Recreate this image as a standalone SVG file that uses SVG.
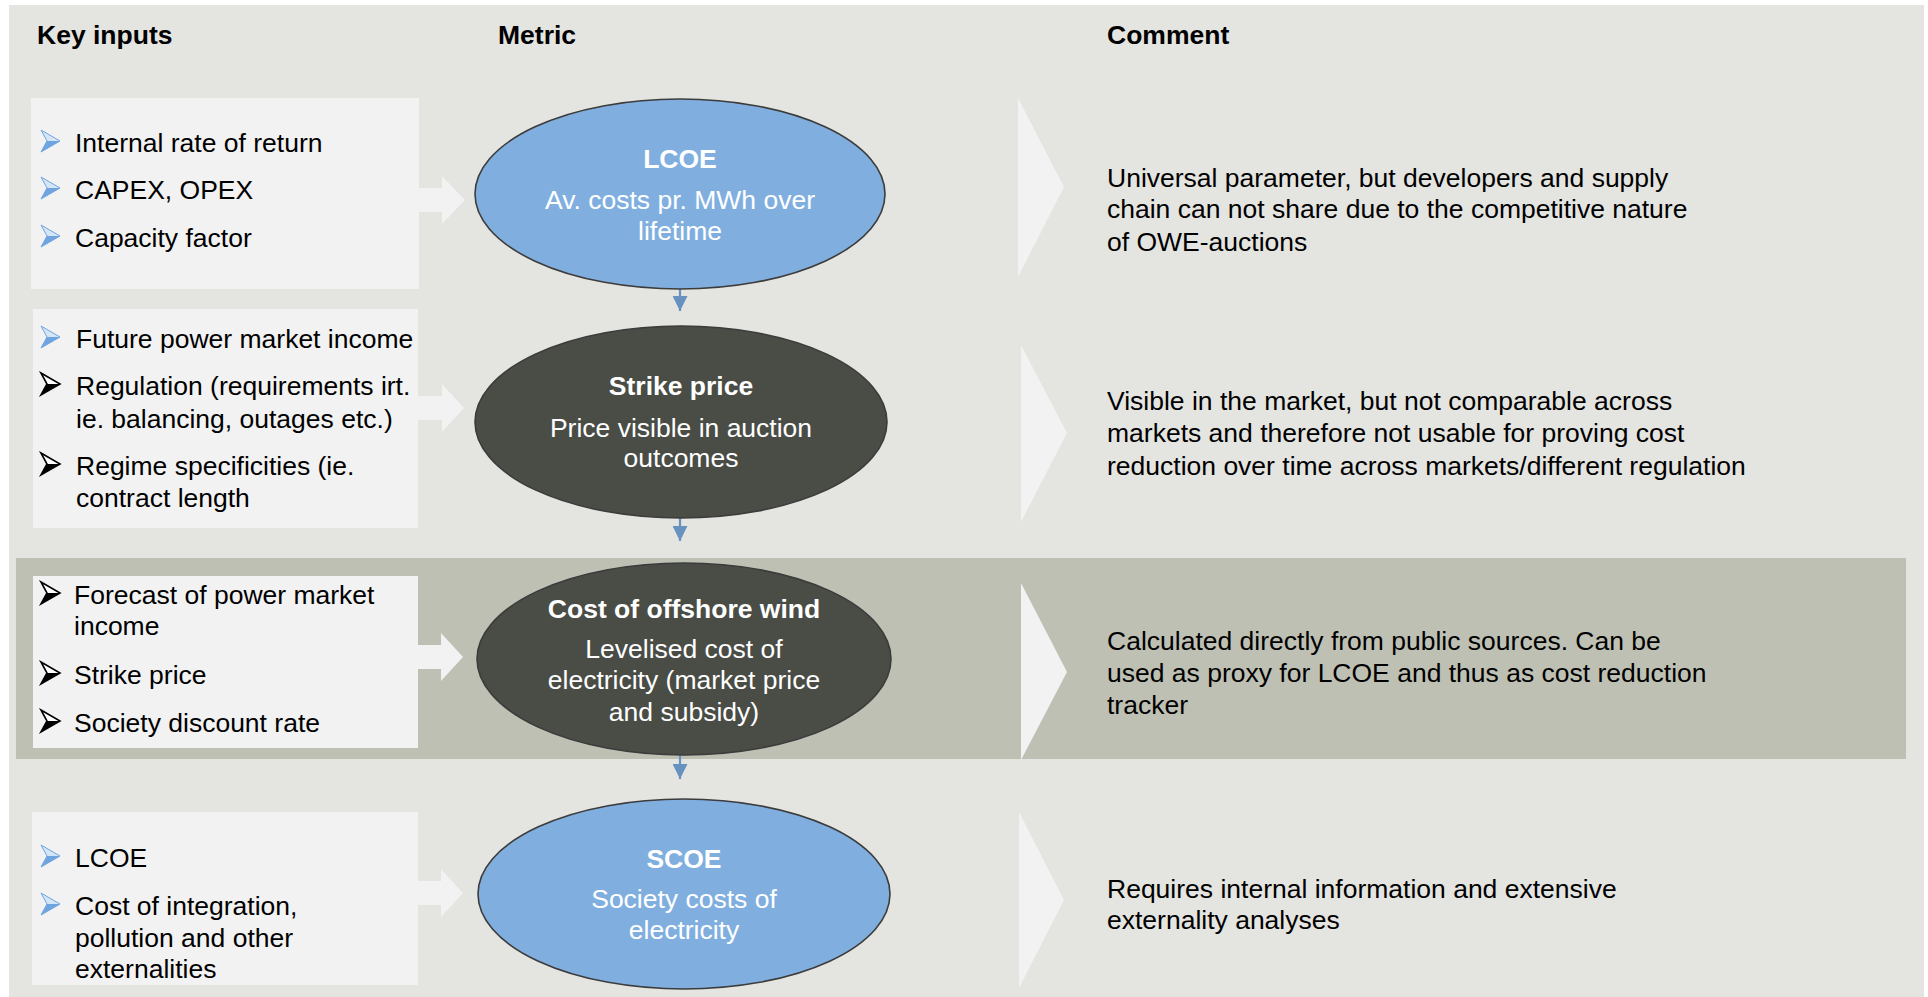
<svg xmlns="http://www.w3.org/2000/svg" width="1928" height="997" viewBox="0 0 1928 997">
<style>
text{font-family:"Liberation Sans",Arial,sans-serif;font-size:26.5px;fill:#000}
.h{font-weight:bold}
.et{fill:#fff;text-anchor:middle}
.eb{fill:#fff;text-anchor:middle;font-weight:bold}
.box{fill:#f2f2f2}
.chev{fill:#f2f2f2}
.blue{fill:#80afdf;stroke:#3c3c3c;stroke-width:1.6}
.dark{fill:#4a4c46;stroke:#3c3c3c;stroke-width:1.6}
.conn{stroke:#6792c0;stroke-width:2.2;fill:none}
</style>
<defs>
<marker id="ah" markerWidth="16" markerHeight="16" refX="7.5" refY="15" orient="0" markerUnits="userSpaceOnUse">
<polygon points="0,0 15,0 7.5,15" fill="#6792c0"/>
</marker>
<g id="bb"><polygon points="0,-22 19,-11 0,0 6,-11" fill="#d6e5f6" stroke="#6ea5e0" stroke-width="1"/><polygon points="6,-11 19,-11 0,0" fill="#6ea5e0"/></g>
<g id="bk"><polygon points="0,-22 19,-11 0,0 6,-11" fill="#fff" stroke="#000" stroke-width="1.6"/><polygon points="6,-11 19,-11 0,0" fill="#000"/></g>
</defs>
<rect x="0" y="0" width="1928" height="997" fill="#fff"/>
<rect x="9" y="5" width="1915" height="992" fill="#e4e4e0"/>
<rect x="16" y="558" width="1890" height="201" fill="#bfc0b4"/>

<g id="headers">
<text class="h" x="37" y="44">Key inputs</text>
<text class="h" x="498" y="44">Metric</text>
<text class="h" x="1107" y="44">Comment</text>
</g>

<g id="inputs-lcoe">
<rect class="box" x="31" y="98" width="388" height="191"/>
<polygon class="box" points="418,188 442,188 442,176 465,200 442,224 442,212 418,212"/>
<use href="#bb" x="41" y="152"/><text x="75" y="152">Internal rate of return</text>
<use href="#bb" x="41" y="199"/><text x="75" y="199">CAPEX, OPEX</text>
<use href="#bb" x="41" y="247"/><text x="75" y="247">Capacity factor</text>
</g>

<g id="inputs-strike">
<rect class="box" x="33" y="309" width="385" height="219"/>
<polygon class="box" points="417,396 442,396 442,384 464,408 442,432 442,420 417,420"/>
<use href="#bb" x="41" y="348"/><text x="76" y="348">Future power market income</text>
<use href="#bk" x="41" y="395"/><text x="76" y="395">Regulation (requirements irt.</text>
<text x="76" y="428">ie. balancing, outages etc.)</text>
<use href="#bk" x="41" y="475"/><text x="76" y="475">Regime specificities (ie.</text>
<text x="76" y="507">contract length</text>
</g>

<g id="inputs-cow">
<rect class="box" x="33" y="576" width="385" height="172"/>
<polygon class="box" points="417,645 441,645 441,633 463,657 441,681 441,669 417,669"/>
<use href="#bk" x="41" y="604"/><text x="74" y="604">Forecast of power market</text>
<text x="74" y="635">income</text>
<use href="#bk" x="41" y="684"/><text x="74" y="684">Strike price</text>
<use href="#bk" x="41" y="732"/><text x="74" y="732">Society discount rate</text>
</g>

<g id="inputs-scoe">
<rect class="box" x="32" y="812" width="386" height="173"/>
<polygon class="box" points="417,881 441,881 441,869 463,893 441,917 441,905 417,905"/>
<use href="#bb" x="41" y="867"/><text x="75" y="867">LCOE</text>
<use href="#bb" x="41" y="915"/><text x="75" y="915">Cost of integration,</text>
<text x="75" y="947">pollution and other</text>
<text x="75" y="978">externalities</text>
</g>

<g id="connectors">
<line class="conn" x1="680" y1="289" x2="680" y2="311" marker-end="url(#ah)"/>
<line class="conn" x1="680" y1="518" x2="680" y2="541" marker-end="url(#ah)"/>
<line class="conn" x1="680" y1="755" x2="680" y2="779" marker-end="url(#ah)"/>
</g>

<g id="node-lcoe">
<ellipse class="blue" cx="680" cy="194" rx="205" ry="95"/>
<text class="eb" x="680" y="168">LCOE</text>
<text class="et" x="680" y="209">Av. costs pr. MWh over</text>
<text class="et" x="680" y="240">lifetime</text>
</g>

<g id="node-strike">
<ellipse class="dark" cx="681" cy="422" rx="206" ry="96"/>
<text class="eb" x="681" y="395">Strike price</text>
<text class="et" x="681" y="437">Price visible in auction</text>
<text class="et" x="681" y="467">outcomes</text>
</g>

<g id="node-cow">
<ellipse class="dark" cx="684" cy="659" rx="207" ry="96"/>
<text class="eb" x="684" y="618">Cost of offshore wind</text>
<text class="et" x="684" y="658">Levelised cost of</text>
<text class="et" x="684" y="689">electricity (market price</text>
<text class="et" x="684" y="721">and subsidy)</text>
</g>

<g id="node-scoe">
<ellipse class="blue" cx="684" cy="894" rx="206" ry="95"/>
<text class="eb" x="684" y="868">SCOE</text>
<text class="et" x="684" y="908">Society costs of</text>
<text class="et" x="684" y="939">electricity</text>
</g>

<g id="comment-lcoe">
<polygon class="chev" points="1018,98 1064,187 1018,277"/>
<text x="1107" y="187">Universal parameter, but developers and supply</text>
<text x="1107" y="218">chain can not share due to the competitive nature</text>
<text x="1107" y="251">of OWE-auctions</text>
</g>

<g id="comment-strike">
<polygon class="chev" points="1021,345 1067,433 1021,522"/>
<text x="1107" y="410">Visible in the market, but not comparable across</text>
<text x="1107" y="442">markets and therefore not usable for proving cost</text>
<text x="1107" y="475">reduction over time across markets/different regulation</text>
</g>

<g id="comment-cow">
<polygon class="chev" points="1021,583 1067,672 1021,760"/>
<text x="1107" y="650">Calculated directly from public sources. Can be</text>
<text x="1107" y="682">used as proxy for LCOE and thus as cost reduction</text>
<text x="1107" y="714">tracker</text>
</g>

<g id="comment-scoe">
<polygon class="chev" points="1019,812 1064,900 1019,988"/>
<text x="1107" y="898">Requires internal information and extensive</text>
<text x="1107" y="929">externality analyses</text>
</g>
</svg>
